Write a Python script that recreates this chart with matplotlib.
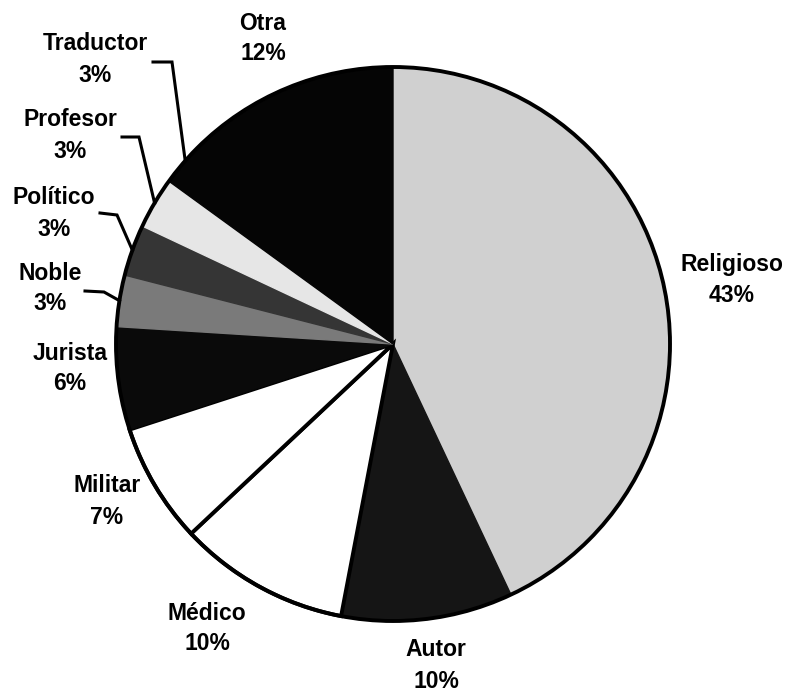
import numpy as np
import matplotlib
matplotlib.use("Agg")
from matplotlib import pyplot as plt
from matplotlib.patches import Circle

# data
categories = ["Religioso", "Autor", "Médico", "Militar", "Jurista",
              "Noble", "Político", "Profesor", "Traductor", "Otra"]
shares = [43, 10, 10, 7, 6, 3, 3, 3, 3, 12]

# styles
colors = ["#d0d0d0", "#151515", "#ffffff", "#ffffff", "#0a0a0a",
          "#7a7a7a", "#353535", "#e6e6e6", "#050505", "#050505"]
# label centres in pixel coords (x, y of the name line)
label_pos = {
    "Religioso": (732, 264), "Autor": (436, 650), "Médico": (207, 613),
    "Militar": (107, 486), "Jurista": (70, 353), "Noble": (50, 273),
    "Político": (54, 198), "Profesor": (70, 120), "Traductor": (95, 44),
    "Otra": (263, 23),
}
# leader lines: start, elbow (pixels), end goes to the wedge edge
leaders = {
    "Traductor": [(153, 62), (172, 62)],
    "Profesor": [(122, 137), (139, 137)],
    "Político": [(100, 213), (117, 215)],
    "Noble": [(85, 291), (104, 292)],
}

W, H = 789, 692
cx, cy, R = 393, 344, 277

plt.rcParams["font.family"] = ["Liberation Sans", "DejaVu Sans"]

fig = plt.figure(figsize=(W / 100, H / 100), dpi=100)
ax = fig.add_axes([0, 0, 1, 1])

wedges, _ = ax.pie(shares, colors=colors, startangle=-90, counterclock=True,
                   center=(cx, cy), radius=R,
                   wedgeprops=dict(linewidth=1.0))
for w, c, name in zip(wedges, colors, categories):
    w.set_edgecolor(c)
    if name in ("Médico", "Militar"):
        w.set_edgecolor("black")
        w.set_linewidth(2.8)

ax.add_patch(Circle((cx, cy), R, fill=False, ec="black", lw=2.8, zorder=5))

ax.set_xlim(0, W)
ax.set_ylim(H, 0)
ax.set_aspect("equal")
ax.axis("off")

for name, val in zip(categories, shares):
    x, y = label_pos[name]
    ax.text(x, y, name, ha="center", va="center", fontsize=16.5,
            fontweight="bold", color="black")
    ax.text(x, y + 31, f"{val}%", ha="center", va="center", fontsize=16.5,
            fontweight="bold", color="black")

for w, name in zip(wedges, categories):
    if name in leaders:
        mid = np.deg2rad((w.theta1 + w.theta2) / 2)
        ex = cx + R * np.cos(mid)
        ey = cy + R * np.sin(mid)
        pts = leaders[name] + [(ex, ey)]
        ax.plot([p[0] for p in pts], [p[1] for p in pts], color="black",
                lw=2.2, solid_joinstyle="miter", zorder=6)

fig.savefig("out.png", dpi=100)
